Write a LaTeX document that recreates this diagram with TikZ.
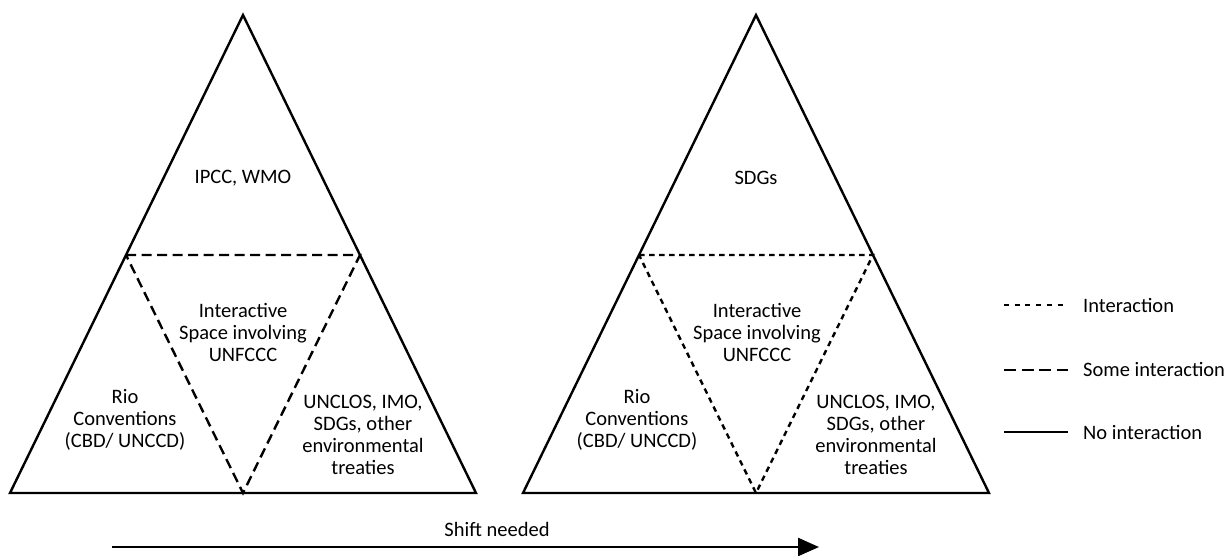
\documentclass[tikz,border=0pt]{standalone}
\usepackage{fontspec}
\setmainfont{Carlito}
\usetikzlibrary{arrows.meta}
\begin{document}
\begin{tikzpicture}[x=1pt,y=-1pt,
  solidline/.style={line width=2.4pt, line join=miter},
  someline/.style={line width=2.4pt, dash pattern=on 10pt off 5.5pt},
  interline/.style={line width=2.4pt, dash pattern=on 5.5pt off 4.5pt},
  lbl/.style={align=center, font=\fontsize{20.5}{22}\selectfont, inner sep=0pt},
  leg/.style={anchor=west, font=\fontsize{20.5}{22}\selectfont, inner sep=0pt}]
\useasboundingbox (0,0) rectangle (1232,555);
% left triangle
\coordinate (LA) at (243,15);
\coordinate (LL) at (10,493);
\coordinate (LR) at (476,493);
\coordinate (LML) at (126,255);
\coordinate (LMR) at (360,255);
\coordinate (LB) at (243,493);
\draw[solidline] (LL) -- (LA) -- (LR) -- cycle;
\draw[someline] (LML) -- (LMR) -- (LB) -- cycle;
% right triangle
\coordinate (RA) at (756,15);
\coordinate (RL) at (523,493);
\coordinate (RR) at (989,493);
\coordinate (RML) at (639,255);
\coordinate (RMR) at (873,255);
\coordinate (RB) at (756,493);
\draw[solidline] (RL) -- (RA) -- (RR) -- cycle;
\draw[interline] (RML) -- (RMR) -- (RB) -- cycle;
% left labels
\node[lbl] (ltop) at (243,178) {IPCC, WMO};
\node[lbl] (lmid) at (243,332) {Interactive\\Space involving\\UNFCCC};
\node[lbl] (lrio) at (125,420) {Rio\\Conventions\\(CBD/ UNCCD)};
\node[lbl] (lunc) at (363,435) {UNCLOS, IMO,\\SDGs, other\\environmental\\treaties};
% right labels
\node[lbl] (rtop) at (756,178) {SDGs};
\node[lbl] (rmid) at (757,332) {Interactive\\Space involving\\UNFCCC};
\node[lbl] (rrio) at (637,420) {Rio\\Conventions\\(CBD/ UNCCD)};
\node[lbl] (runc) at (876,435) {UNCLOS, IMO,\\SDGs, other\\environmental\\treaties};
% arrow
\coordinate (AS) at (112,547);
\coordinate (AE) at (819,547);
\draw[line width=2.4pt, -{Triangle[length=21pt,width=18pt]}] (AS) -- (AE);
\node[lbl] (shift) at (497,529) {Shift needed};
% legend
\coordinate (L1a) at (1004,305); \coordinate (L1b) at (1065,305);
\coordinate (L2a) at (1004,370); \coordinate (L2b) at (1068,370);
\coordinate (L3a) at (1004,432); \coordinate (L3b) at (1068,432);
\draw[line width=2.4pt, dash pattern=on 5pt off 5.7pt] (L1a) -- (L1b);
\draw[line width=2.4pt, dash pattern=on 12pt off 5.5pt] (L2a) -- (L2b);
\draw[line width=2.4pt] (L3a) -- (L3b);
\node[leg] (t1) at (1083,305) {Interaction};
\node[leg] (t2) at (1083,369) {Some interaction};
\node[leg] (t3) at (1083,432) {No interaction};
\end{tikzpicture}
\end{document}
